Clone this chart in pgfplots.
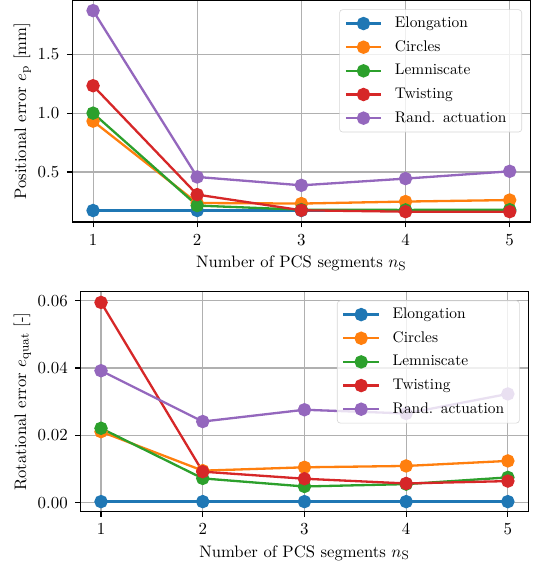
\documentclass[border=0pt]{standalone}
\usepackage{pgfplots}
\pgfplotsset{compat=1.18}
\definecolor{c1}{HTML}{1F77B4}
\definecolor{c2}{HTML}{FF7F0E}
\definecolor{c3}{HTML}{2CA02C}
\definecolor{c4}{HTML}{D62728}
\definecolor{c5}{HTML}{9467BD}
\definecolor{gridc}{HTML}{B0B0B0}
\definecolor{legc}{HTML}{CCCCCC}
\pgfplotsset{
  myax/.style={
    scale only axis,
    xmin=0.8, xmax=5.2,
    xtick={1,2,3,4,5},
    tick pos=left,
    tick align=outside,
    major tick length=3.4pt,
    every tick/.style={black, line width=0.72pt},
    axis line style={line width=0.72pt},
    grid=major,
    major grid style={gridc, line width=0.72pt},
    ticklabel style={font=\fontsize{10.8}{13}\selectfont},
    label style={font=\fontsize{10.8}{13}\selectfont},
    yticklabel style={xshift=-1.5pt},
    xticklabel style={yshift=-1pt},
    ylabel style={yshift=-2.5pt},
    xlabel={Number of PCS segments $n_\mathrm{S}$},
    legend cell align=left,
    legend image code/.code={\draw[fill opacity=1,draw opacity=1,mark repeat=2,mark phase=2] plot coordinates {(0pt,0pt) (11.5pt,0pt) (23pt,0pt)};},
    legend style={at={(1,1)}, anchor=north east, xshift=-5.5pt, yshift=-5.7pt,
      draw=legc, fill=white, fill opacity=0.8, draw opacity=0.8, text opacity=1,
      rounded corners=2pt, inner xsep=3.3pt, inner ysep=4.5pt, row sep=6.36pt,
      font=\fontsize{10}{12}\selectfont,
      nodes={inner sep=0pt, text height=7pt, text depth=2pt},
      /tikz/column 2/.style={nodes={text width=79pt}},
      /tikz/every odd column/.append style={column sep=8.2pt}},
    every axis plot/.append style={line width=1.5pt, mark=*, mark size=3.6pt},
  }
}
\begin{document}
\begin{tikzpicture}
\path[use as bounding box] (0,0) rectangle (350pt,368.2pt);
\begin{axis}[myax,
  at={(46.9pt,224pt)}, anchor=south west,
  width=297.6pt, height=143.8pt,
  ymin=0.075, ymax=1.956,
  ytick={0.5,1.0,1.5},
  yticklabel style={/pgf/number format/.cd, fixed, fixed zerofill, precision=1},
  ylabel={Positional error $e_\mathrm{p}$ [mm]},
]
\addplot[c1, mark options={fill=c1}] coordinates {(1,0.173) (2,0.173) (3,0.173) (4,0.173) (5,0.173)};
\addlegendentry{Elongation}
\addplot[c2, mark options={fill=c2}] coordinates {(1,0.932) (2,0.237) (3,0.232) (4,0.249) (5,0.262)};
\addlegendentry{Circles}
\addplot[c3, mark options={fill=c3}] coordinates {(1,1.000) (2,0.215) (3,0.180) (4,0.178) (5,0.180)};
\addlegendentry{Lemniscate}
\addplot[c4, mark options={fill=c4}] coordinates {(1,1.233) (2,0.308) (3,0.175) (4,0.163) (5,0.163)};
\addlegendentry{Twisting}
\addplot[c5, mark options={fill=c5}] coordinates {(1,1.871) (2,0.458) (3,0.387) (4,0.444) (5,0.506)};
\addlegendentry{Rand. actuation}
\end{axis}
\begin{axis}[myax,
  at={(52.4pt,35.9pt)}, anchor=south west,
  width=290.6pt, height=142.9pt,
  ymin=-0.0027, ymax=0.0627,
  ytick={0,0.02,0.04,0.06},
  scaled y ticks=false,
  yticklabel style={/pgf/number format/.cd, fixed, fixed zerofill, precision=2},
  ylabel={Rotational error $e_\mathrm{quat}$ [-]},
]
\addplot[c1, mark options={fill=c1}] coordinates {(1,0.0003) (2,0.0003) (3,0.0003) (4,0.0003) (5,0.0003)};
\addlegendentry{Elongation}
\addplot[c2, mark options={fill=c2}] coordinates {(1,0.0211) (2,0.0095) (3,0.0105) (4,0.0109) (5,0.0124)};
\addlegendentry{Circles}
\addplot[c3, mark options={fill=c3}] coordinates {(1,0.0221) (2,0.0072) (3,0.0048) (4,0.0055) (5,0.0075)};
\addlegendentry{Lemniscate}
\addplot[c4, mark options={fill=c4}] coordinates {(1,0.0595) (2,0.0092) (3,0.0071) (4,0.0057) (5,0.0064)};
\addlegendentry{Twisting}
\addplot[c5, mark options={fill=c5}] coordinates {(1,0.0392) (2,0.0241) (3,0.0276) (4,0.0265) (5,0.0323)};
\addlegendentry{Rand. actuation}
\end{axis}
\end{tikzpicture}
\end{document}
